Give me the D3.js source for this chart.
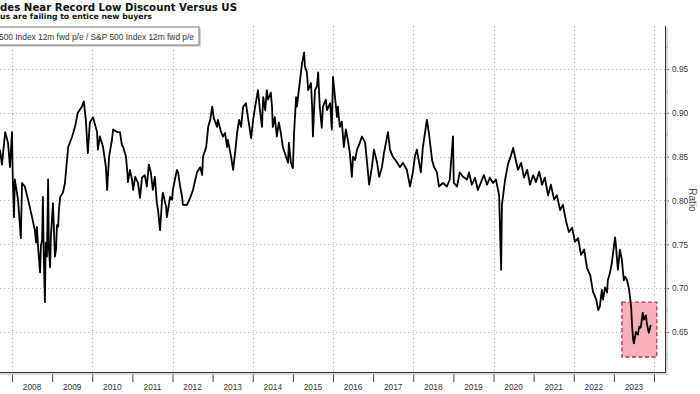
<!DOCTYPE html>
<html lang="en">
<head>
  <meta charset="UTF-8">
  <title>Ratio chart</title>
  <script src="https://d3js.org/d3.v7.min.js"></script>
  <style>
    body { margin: 0; background: #fff; }
    svg { display: block; font-family: "Liberation Sans", Arial, sans-serif; }
    .grid line { stroke: #b5b5b5; stroke-width: 1; stroke-dasharray: 1.2,2.8; }
    .axis text { fill: #333; font-size: 8.3px; }
    .axis line { stroke: #444; }
    .series { fill: none; stroke: #000; stroke-width: 1.8; stroke-linejoin: round; }
  </style>
</head>
<body>
  <svg width="700" height="394"></svg>
  <script>
    // tick labels
    const years = d3.range(2008, 2024);
    const yTicks = [0.65, 0.70, 0.75, 0.80, 0.85, 0.90, 0.95];
    const yMinor = [0.625, 0.675, 0.725, 0.775, 0.825, 0.875, 0.925, 0.975];

    // ratio (decimal year, value), one row per year
    const dates = [
      2007.70, 2007.75, 2007.83, 2007.90, 2007.95,
      2008.00, 2008.02, 2008.05, 2008.07, 2008.15, 2008.22, 2008.25, 2008.32, 2008.40, 2008.50, 2008.57, 2008.60, 2008.62, 2008.65, 2008.67, 2008.70, 2008.72, 2008.75, 2008.77, 2008.79, 2008.82, 2008.84, 2008.87, 2008.90, 2008.92, 2008.95, 2008.97,
      2009.00, 2009.02, 2009.05, 2009.07, 2009.10, 2009.12, 2009.15, 2009.17, 2009.20, 2009.27, 2009.32, 2009.37, 2009.40, 2009.50, 2009.57, 2009.64, 2009.74, 2009.79, 2009.84, 2009.89, 2009.94,
      2010.02, 2010.12, 2010.14, 2010.19, 2010.27, 2010.34, 2010.37, 2010.42, 2010.49, 2010.52, 2010.62, 2010.69, 2010.74, 2010.77, 2010.84, 2010.87, 2010.89, 2010.94, 2010.99,
      2011.02, 2011.07, 2011.14, 2011.19, 2011.24, 2011.31, 2011.36, 2011.41, 2011.46, 2011.51, 2011.56, 2011.61, 2011.64, 2011.69, 2011.74, 2011.76, 2011.84, 2011.86, 2011.94, 2011.99,
      2012.01, 2012.06, 2012.11, 2012.14, 2012.19, 2012.24, 2012.26, 2012.36, 2012.44, 2012.51, 2012.61, 2012.69, 2012.74, 2012.76, 2012.84, 2012.89, 2012.94, 2012.99,
      2013.03, 2013.11, 2013.13, 2013.21, 2013.26, 2013.31, 2013.36, 2013.38, 2013.46, 2013.51, 2013.56, 2013.61, 2013.66, 2013.71, 2013.76, 2013.83, 2013.88, 2013.96,
      2014.01, 2014.06, 2014.13, 2014.18, 2014.23, 2014.26, 2014.31, 2014.35, 2014.38, 2014.45, 2014.48, 2014.50, 2014.55, 2014.60, 2014.65, 2014.70, 2014.75, 2014.83, 2014.88, 2014.90, 2014.95,
      2015.00, 2015.03, 2015.08, 2015.10, 2015.18, 2015.23, 2015.28, 2015.30, 2015.35, 2015.38, 2015.45, 2015.48, 2015.50, 2015.55, 2015.60, 2015.63, 2015.67, 2015.72, 2015.75, 2015.82, 2015.85, 2015.93, 2015.97,
      2016.00, 2016.05, 2016.10, 2016.12, 2016.17, 2016.22, 2016.27, 2016.32, 2016.37, 2016.42, 2016.47, 2016.50, 2016.55, 2016.60, 2016.67, 2016.72, 2016.80, 2016.85, 2016.90, 2016.97,
      2017.02, 2017.10, 2017.15, 2017.22, 2017.27, 2017.32, 2017.37, 2017.42, 2017.49, 2017.59, 2017.67, 2017.74, 2017.84, 2017.92, 2017.99,
      2018.04, 2018.09, 2018.19, 2018.24, 2018.34, 2018.39, 2018.47, 2018.52, 2018.59, 2018.64, 2018.74, 2018.84, 2018.91, 2018.99,
      2019.01, 2019.09, 2019.16, 2019.24, 2019.34, 2019.39, 2019.46, 2019.54, 2019.61, 2019.69, 2019.76, 2019.84, 2019.91, 2019.99,
      2020.06, 2020.14, 2020.19, 2020.21, 2020.29, 2020.36, 2020.44, 2020.49, 2020.54, 2020.61, 2020.69, 2020.76, 2020.84, 2020.91, 2020.99,
      2021.06, 2021.14, 2021.21, 2021.28, 2021.36, 2021.43, 2021.51, 2021.58, 2021.66, 2021.73, 2021.81, 2021.88, 2021.96,
      2022.03, 2022.11, 2022.18, 2022.26, 2022.33, 2022.41, 2022.48, 2022.56, 2022.61, 2022.65, 2022.70, 2022.73, 2022.78, 2022.83, 2022.85, 2022.90, 2022.95, 2022.98,
      2023.03, 2023.05, 2023.08, 2023.10, 2023.15, 2023.20, 2023.23, 2023.25, 2023.28, 2023.33, 2023.38, 2023.43, 2023.45, 2023.48, 2023.50, 2023.55, 2023.60, 2023.63, 2023.67, 2023.72, 2023.75, 2023.80, 2023.82, 2023.87, 2023.92
    ];
    const ratios = [
      0.858, 0.841, 0.878, 0.866, 0.838,
      0.878, 0.824, 0.781, 0.824, 0.801, 0.757, 0.820, 0.816, 0.801, 0.781, 0.766, 0.752, 0.770, 0.747, 0.735, 0.718, 0.748, 0.755, 0.804, 0.740, 0.684, 0.752, 0.736, 0.824, 0.745, 0.724, 0.760,
      0.781, 0.797, 0.760, 0.736, 0.745, 0.772, 0.770, 0.790, 0.804, 0.809, 0.820, 0.846, 0.861, 0.873, 0.884, 0.900, 0.907, 0.913, 0.892, 0.854, 0.889,
      0.895, 0.878, 0.858, 0.873, 0.861, 0.838, 0.812, 0.850, 0.869, 0.881, 0.878, 0.878, 0.863, 0.861, 0.850, 0.835, 0.821, 0.835, 0.824,
      0.812, 0.827, 0.820, 0.803, 0.826, 0.829, 0.816, 0.841, 0.832, 0.812, 0.827, 0.797, 0.789, 0.766, 0.801, 0.809, 0.793, 0.781, 0.804, 0.801,
      0.812, 0.824, 0.835, 0.832, 0.816, 0.804, 0.795, 0.795, 0.803, 0.812, 0.832, 0.838, 0.829, 0.850, 0.861, 0.884, 0.892, 0.907,
      0.894, 0.884, 0.892, 0.878, 0.873, 0.877, 0.861, 0.869, 0.850, 0.835, 0.854, 0.877, 0.892, 0.884, 0.907, 0.911, 0.895, 0.871,
      0.892, 0.907, 0.926, 0.903, 0.884, 0.918, 0.903, 0.926, 0.915, 0.923, 0.907, 0.884, 0.895, 0.873, 0.889, 0.877, 0.861, 0.850, 0.843, 0.866, 0.843,
      0.837, 0.877, 0.918, 0.907, 0.938, 0.957, 0.969, 0.953, 0.946, 0.926, 0.934, 0.907, 0.873, 0.926, 0.930, 0.946, 0.907, 0.883, 0.907, 0.915, 0.903, 0.911, 0.881,
      0.941, 0.918, 0.895, 0.907, 0.884, 0.890, 0.861, 0.881, 0.869, 0.854, 0.827, 0.850, 0.846, 0.858, 0.866, 0.873, 0.866, 0.843, 0.818, 0.838,
      0.858, 0.843, 0.827, 0.838, 0.854, 0.866, 0.878, 0.858, 0.850, 0.844, 0.838, 0.843, 0.835, 0.816, 0.832,
      0.850, 0.858, 0.832, 0.861, 0.892, 0.877, 0.846, 0.838, 0.832, 0.816, 0.820, 0.816, 0.824, 0.873,
      0.820, 0.816, 0.832, 0.827, 0.824, 0.832, 0.818, 0.826, 0.812, 0.821, 0.829, 0.818, 0.826, 0.820,
      0.824, 0.806, 0.721, 0.795, 0.824, 0.841, 0.852, 0.860, 0.849, 0.835, 0.843, 0.826, 0.835, 0.818, 0.829,
      0.821, 0.833, 0.818, 0.826, 0.806, 0.818, 0.801, 0.806, 0.789, 0.795, 0.776, 0.764, 0.769,
      0.753, 0.757, 0.738, 0.744, 0.723, 0.715, 0.696, 0.687, 0.675, 0.679, 0.698, 0.687, 0.701, 0.695, 0.709, 0.717, 0.729, 0.740,
      0.758, 0.749, 0.732, 0.721, 0.744, 0.732, 0.717, 0.709, 0.713, 0.709, 0.698, 0.679, 0.660, 0.641, 0.637, 0.650, 0.647, 0.656, 0.655, 0.672, 0.664, 0.669, 0.660, 0.649, 0.658
    ];

    // highlighted zone: [x0, x1] in years, [y0, y1] in ratio
    const highlightX = [2023.2, 2024.07];
    const highlightY = [0.6215, 0.684];

    const svg = d3.select("svg");
    const plotLeft = 0, plotRight = 665, plotTop = 26, plotBottom = 372;

    const x = d3.scaleLinear().domain([2008, 2024]).range([12, 654]);
    const y = d3.scaleLinear().domain([0.65, 0.95]).range([332, 69]);

    // gridlines
    const grid = svg.append("g").attr("class", "grid");
    grid.selectAll(".gy")
      .data(yTicks)
      .join("line")
      .attr("x1", plotLeft).attr("x2", plotRight)
      .attr("y1", d => Math.round(y(d)) + 0.5).attr("y2", d => Math.round(y(d)) + 0.5);
    grid.selectAll(".gx")
      .data(d3.range(2008, 2025, 2))
      .join("line")
      .attr("class", "gx")
      .attr("x1", d => Math.round(x(d)) + 0.5).attr("x2", d => Math.round(x(d)) + 0.5)
      .attr("y1", plotTop).attr("y2", plotBottom);

    // highlight box
    svg.append("rect")
      .attr("x", x(highlightX[0]))
      .attr("y", y(highlightY[1]))
      .attr("width", x(highlightX[1]) - x(highlightX[0]))
      .attr("height", y(highlightY[0]) - y(highlightY[1]))
      .attr("fill", "#f7a3ae")
      .attr("fill-opacity", 0.85)
      .attr("stroke", "#a8384e")
      .attr("stroke-width", 1.3)
      .attr("stroke-dasharray", "4,2.5");

    // series
    svg.append("clipPath").attr("id", "clip")
      .append("rect")
      .attr("x", plotLeft).attr("y", plotTop)
      .attr("width", plotRight - plotLeft).attr("height", plotBottom - plotTop);

    const line = d3.line()
      .x((d, i) => x(dates[i]))
      .y(d => y(d));

    svg.append("path")
      .datum(ratios)
      .attr("class", "series")
      .attr("clip-path", "url(#clip)")
      .attr("d", line);

    // right axis
    const yAxis = svg.append("g")
      .attr("class", "axis")
      .attr("transform", `translate(${plotRight},0)`)
      .call(d3.axisRight(y).tickValues(yTicks).tickSize(4).tickPadding(3)
        .tickFormat(d3.format(".2f")));
    yAxis.select(".domain").remove();
    yAxis.selectAll("text").attr("dy", "0.34em");

    const yMinorAxis = svg.append("g")
      .attr("class", "axis")
      .attr("transform", `translate(${plotRight},0)`)
      .call(d3.axisRight(y).tickValues(yMinor).tickSize(2.5).tickFormat(""));
    yMinorAxis.select(".domain").remove();

    // bottom axis: year separators, labels centred in each year
    const xAxis = svg.append("g")
      .attr("class", "axis")
      .attr("transform", `translate(0,${plotBottom})`)
      .call(d3.axisBottom(x).tickValues(d3.range(2008, 2025)).tickSize(10).tickFormat(""));
    xAxis.select(".domain").remove();

    svg.append("g")
      .attr("class", "axis")
      .selectAll("text")
      .data(years)
      .join("text")
      .attr("x", d => x(d + 0.5))
      .attr("y", 390)
      .attr("text-anchor", "middle")
      .text(d => d);

    // frame lines (bottom + right) with a soft shadow
    svg.append("path")
      .attr("d", `M${plotLeft},${plotBottom + 2}H${plotRight + 2}V${plotTop + 2}`)
      .attr("fill", "none").attr("stroke", "#d0d0d0").attr("stroke-width", 1.5);
    svg.append("path")
      .attr("d", `M${plotLeft},${plotBottom + 0.5}H${plotRight + 0.5}V${plotTop}`)
      .attr("fill", "none").attr("stroke", "#333").attr("stroke-width", 1);

    svg.append("text")
      .attr("transform", `translate(689,200) rotate(90)`)
      .attr("text-anchor", "middle")
      .attr("fill", "#444")
      .attr("font-size", 10)
      .text("Ratio");

    // titles
    svg.append("text")
      .attr("x", 0).attr("y", 10.5)
      .attr("font-family", "DejaVu Sans, sans-serif")
      .attr("font-weight", "bold")
      .attr("font-size", 10.6)
      .attr("fill", "#111")
      .attr("textLength", 237).attr("lengthAdjust", "spacingAndGlyphs")
      .text("des Near Record Low Discount Versus US");
    svg.append("text")
      .attr("x", 0).attr("y", 19)
      .attr("font-family", "DejaVu Sans, sans-serif")
      .attr("font-weight", "bold")
      .attr("font-size", 7.6)
      .attr("fill", "#111")
      .attr("textLength", 152).attr("lengthAdjust", "spacingAndGlyphs")
      .text("us are failing to entice new buyers");

    // legend box
    svg.append("rect")
      .attr("x", -5).attr("y", 28).attr("width", 206).attr("height", 19)
      .attr("fill", "#d8d8d8");
    svg.append("rect")
      .attr("x", -6).attr("y", 27).attr("width", 205).attr("height", 18)
      .attr("fill", "#fff").attr("stroke", "#777").attr("stroke-width", 1);
    svg.append("text")
      .attr("x", -1).attr("y", 39.5)
      .attr("font-size", 8.6)
      .attr("fill", "#333")
      .attr("textLength", 195).attr("lengthAdjust", "spacingAndGlyphs")
      .text("500 Index 12m fwd p/e / S&P 500 Index 12m fwd p/e");
  </script>
</body>
</html>
